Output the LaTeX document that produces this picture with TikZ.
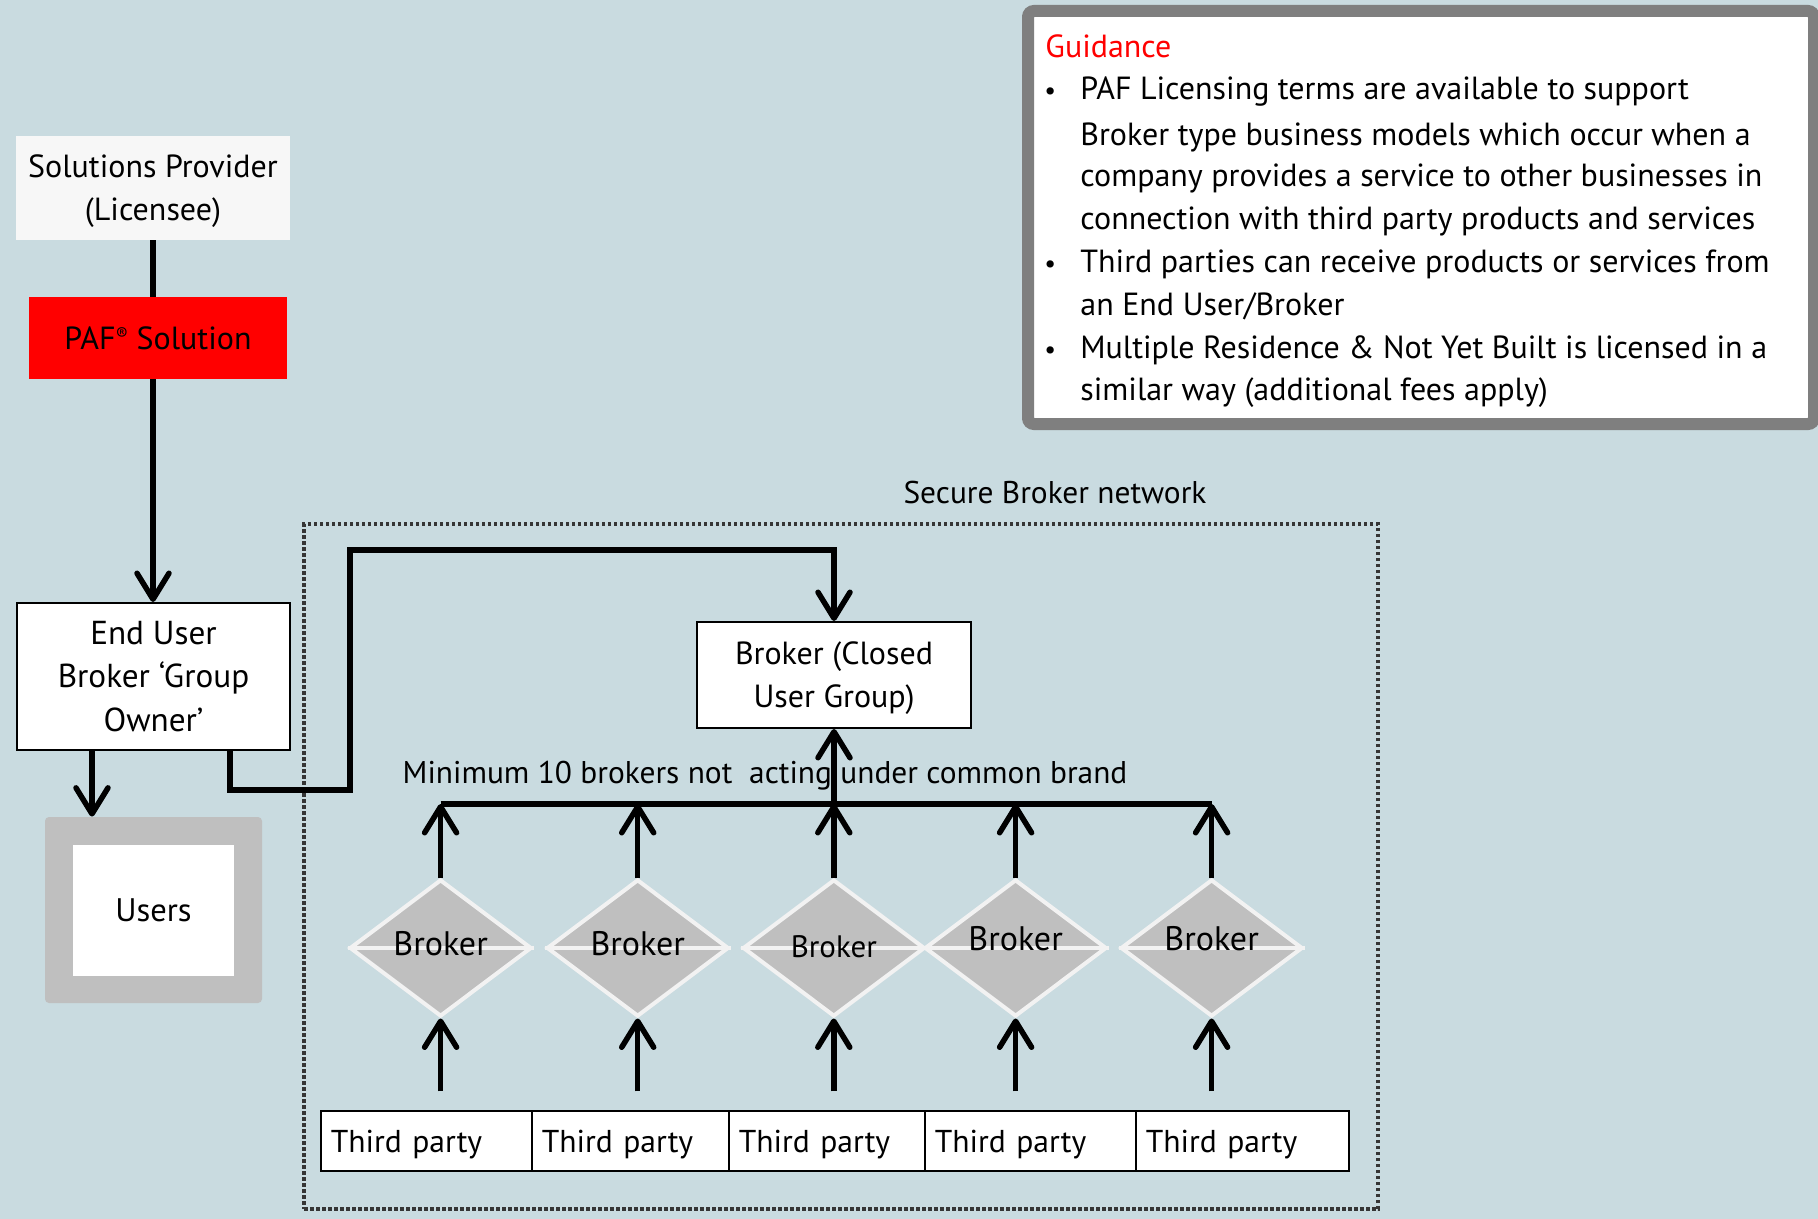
\documentclass[tikz,border=0pt]{standalone}
\usepackage{fontspec}
\setmainfont{PT Sans}
\usetikzlibrary{shapes.geometric,arrows.meta,calc}
\definecolor{bg}{HTML}{C9DBE0}
\definecolor{spfill}{HTML}{F7F7F7}
\definecolor{midgray}{HTML}{BFBFBF}
\definecolor{edgewhite}{HTML}{F2F2F2}
\definecolor{dotgray}{HTML}{353535}
\definecolor{gframe}{HTML}{7F7F7F}
\begin{document}
\begin{tikzpicture}[x=0.5pt,y=-0.5pt,
  txt/.style={font=\fontsize{16pt}{21.5pt}\selectfont, align=center, inner sep=0pt},
  box/.style={txt, rectangle, inner sep=0pt},
  conn/.style={line width=2.75pt},
  arr/.style={conn, -{Straight Barb[length=13pt,width=16pt,round]}},
  brk/.style={diamond, fill=midgray, draw=edgewhite, line width=2pt, minimum width=91pt, minimum height=68.5pt, inner sep=0pt},
  tpbox/.style={txt, font=\fontsize{15.8pt}{20pt}\selectfont, draw, line width=0.75pt, fill=white, minimum height=30pt, inner xsep=5pt, align=left, anchor=west, text depth=0pt, text width=#1},
  gline/.style={font=\fontsize{16pt}{21.5pt}\selectfont, inner sep=0pt, anchor=base west},
]
\fill[bg] (0,0) rectangle (1818,1219);
\useasboundingbox (0,0) rectangle (1818,1219);

% left column
\node[box, fill=spfill, minimum width=137pt, minimum height=52pt, text depth=0pt] (sp) at (153,188) {Solutions Provider\\(Licensee)};
\node[box, fill=red, minimum width=129pt, minimum height=41pt] (paf) at (158,338) {PAF\raisebox{0.55ex}{\fontsize{9pt}{9pt}\selectfont ®} Solution};
\node[box, font=\fontsize{16.6pt}{21.7pt}\selectfont, draw, line width=1pt, fill=white, minimum width=136.5pt, minimum height=73.5pt] (eu) at (153.5,676.5) {End User\\Broker ‘Group\\Owner’};
\node[fill=midgray, rounded corners=2pt, minimum width=108.5pt, minimum height=93pt, inner sep=0pt] (users) at (153.5,910) {};
\node[box, font=\fontsize{16.3pt}{20pt}\selectfont, fill=white, minimum width=80.5pt, minimum height=65.5pt] (usersin) at (153.5,910.5) {Users};

\draw[conn] (sp.south) -- (sp.south |- paf.north);
\draw[arr] (sp.south |- paf.south) -- (sp.south |- eu.north);
\coordinate (euA) at ($(eu.south west)+(76,0)$);
\draw[arr] (euA) -- (euA |- users.north);

% guidance box
\node[draw=gframe, line width=6pt, fill=white, rounded corners=3pt, minimum width=393pt, minimum height=206.5pt, inner sep=0pt] (guide) at (1421,217.5) {};
\node[gline, text=red] (g0) at (1045,58) {Guidance};
\foreach \yy/\tt [count=\i] in {100/{PAF Licensing terms are available to support},
  146/{Broker type business models which occur when a},
  187/{company provides a service to other businesses in},
  230/{connection with third party products and services},
  273/{Third parties can receive products or services from},
  315/{an End User/Broker},
  358/{Multiple Residence \& Not Yet Built is licensed in a},
  400/{similar way (additional fees apply)}}
  \node[gline] (g\i) at (1080,\yy) {\tt};
\foreach \yy [count=\i] in {100,273,358}
  \node[gline, font=\fontsize{13pt}{16pt}\selectfont] (gb\i) at (1044,\yy) {•};

% secure broker network
\node[txt, font=\fontsize{15.7pt}{20pt}\selectfont] (sbn) at (1055,493) {Secure Broker network};
\node[draw=dotgray, line width=2pt, dash pattern=on 1.75pt off 1.25pt, minimum width=537pt, minimum height=342.5pt, inner sep=0pt] (net) at (841,866.5) {};

\node[box, draw, line width=1pt, fill=white, minimum width=137pt, minimum height=53pt, text depth=0pt] (cug) at (834,675) {Broker (Closed\\User Group)};

\draw[arr] ($(eu.south east)+(-61,0)$) -- ++(0,39) -- ++(120,0) |- ($(cug.north)+(0,-71)$) -- (cug.north);

\node[txt, font=\fontsize{15.7pt}{20pt}\selectfont] (minlbl) at (765,776) {Minimum 10 brokers not\ \ acting under common brand};

% brokers
\node[brk] (b1) at (440.6,948) {};
\node[brk] (b2) at (637.7,948) {};
\node[brk] (b3) at (833.8,948) {};
\node[brk] (b4) at (1015.6,948) {};
\node[brk] (b5) at (1211.6,948) {};
\foreach \i in {1,...,5}
  \draw[edgewhite, line width=2pt] (b\i.west) -- (b\i.east);
\tikzset{blbl/.style={txt, font=\fontsize{17pt}{20pt}\selectfont, anchor=base}}
\node[blbl] (l1) at ($(b1.center)+(0,7)$) {Broker};
\node[blbl] (l2) at ($(b2.center)+(0,7)$) {Broker};
\node[blbl, font=\fontsize{15.5pt}{18pt}\selectfont] (l3) at ($(b3.center)+(0,9)$) {Broker};
\node[blbl] (l4) at ($(b4.center)+(0,2)$) {Broker};
\node[blbl] (l5) at ($(b5.center)+(0,2)$) {Broker};

\coordinate (busL) at (440.6,804);
\coordinate (busR) at (1211.6,804);
\draw[conn] (busL) -- (busR);
\draw[arr] (cug.south |- busL) -- (cug.south);
\foreach \i in {1,...,5}
  \draw[arr] (b\i.north) -- (b\i.north |- busL);

% third parties
\node[tpbox=95.5pt] (tp1) at (320,1141) {Third party};
\node[tpbox=88.5pt] (tp2) at (531,1141) {Third party};
\node[tpbox=88pt] (tp3) at (728,1141) {Third party};
\node[tpbox=95.5pt] (tp4) at (924,1141) {Third party};
\node[tpbox=96.5pt] (tp5) at (1135,1141) {Third party};
\foreach \i in {1,...,5}
  \draw[arr] ($(b\i.south |- tp1.north)+(0,-19)$) -- (b\i.south);
\end{tikzpicture}
\end{document}
